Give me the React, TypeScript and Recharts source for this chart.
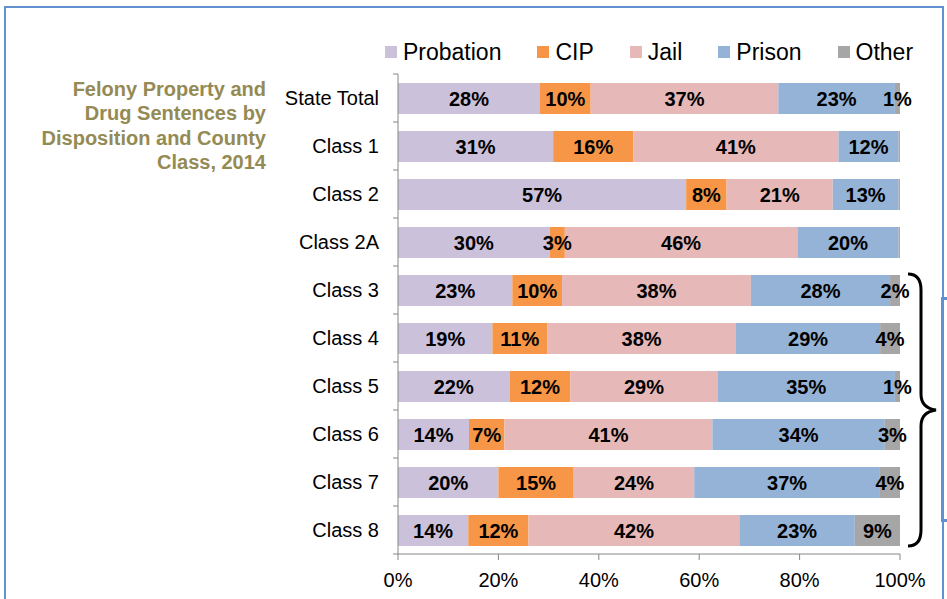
import { Bar, BarChart, LabelList, XAxis, YAxis } from "recharts";

const CATEGORIES = [
  "State Total",
  "Class 1",
  "Class 2",
  "Class 2A",
  "Class 3",
  "Class 4",
  "Class 5",
  "Class 6",
  "Class 7",
  "Class 8",
];
const PROBATION = [28, 31, 57, 30, 23, 19, 22, 14, 20, 14];
const CIP = [10, 16, 8, 3, 10, 11, 12, 7, 15, 12];
const JAIL = [37, 41, 21, 46, 38, 38, 29, 41, 24, 42];
const PRISON = [23, 12, 13, 20, 28, 29, 35, 34, 37, 23];
// tiny slivers with no label in classes 1, 2, 2A
const OTHER = [1, 0.3, 0.3, 0.3, 2, 4, 1, 3, 4, 9];
const X_TICKS = [0, 0.2, 0.4, 0.6, 0.8, 1];

const SERIES = [
  { key: "probation", name: "Probation", color: "#ccc1da" },
  { key: "cip", name: "CIP", color: "#f79646" },
  { key: "jail", name: "Jail", color: "#e6b9b8" },
  { key: "prison", name: "Prison", color: "#95b3d7" },
  { key: "other", name: "Other", color: "#a6a6a6" },
];

const data = CATEGORIES.map((name, i) => ({
  name,
  probation: PROBATION[i],
  cip: CIP[i],
  jail: JAIL[i],
  prison: PRISON[i],
  other: OTHER[i],
}));

const FONT = '"Liberation Sans", Arial, sans-serif';
const PLOT_TOP = 74;
const PLOT_BOTTOM = 554;
const BAND = (PLOT_BOTTOM - PLOT_TOP) / CATEGORIES.length;
const AXIS_COLOR = "#868686";

function CategoryTick(props: any) {
  const { x, y, payload, index } = props;
  const axisX = x + 19;
  return (
    <g>
      <text
        x={x}
        y={y}
        textAnchor="end"
        dominantBaseline="central"
        fontSize={20}
        fontFamily={FONT}
        fill="#000"
      >
        {payload.value}
      </text>
      <line x1={axisX - 5} x2={axisX} y1={y - BAND / 2} y2={y - BAND / 2} stroke={AXIS_COLOR} />
      {index === CATEGORIES.length - 1 && (
        <line x1={axisX - 5} x2={axisX} y1={y + BAND / 2} y2={y + BAND / 2} stroke={AXIS_COLOR} />
      )}
    </g>
  );
}

const pctLabel = (v: any) => (Number(v) >= 0.5 ? `${v}%` : "");

export default function App() {
  return (
    <div
      style={{
        position: "fixed",
        top: 0,
        left: 0,
        width: 947,
        height: 599,
        overflow: "hidden",
        background: "#fff",
        fontFamily: FONT,
      }}
    >
      {/* frame */}
      <div
        style={{
          position: "absolute",
          left: 4,
          top: 6,
          width: 936,
          height: 620,
          border: "2px solid #6391cf",
        }}
      />
      <div
        style={{
          position: "absolute",
          left: 941,
          top: 297,
          width: 20,
          height: 219,
          border: "3px solid #6391cf",
        }}
      />

      <div
        style={{
          position: "absolute",
          right: 947 - 266,
          top: 77,
          textAlign: "right",
          color: "#948a54",
          fontWeight: "bold",
          fontSize: 20,
          lineHeight: "24.3px",
          whiteSpace: "nowrap",
        }}
      >
        Felony Property and
        <br />
        Drug Sentences by
        <br />
        Disposition and County
        <br />
        Class, 2014
      </div>

      <div
        style={{
          position: "absolute",
          left: 385,
          top: 38,
          display: "flex",
          alignItems: "center",
          gap: 36,
          fontSize: 23,
          lineHeight: "28px",
          color: "#000",
        }}
      >
        {SERIES.map((s) => (
          <div key={s.key} style={{ display: "flex", alignItems: "center" }}>
            <span
              style={{ width: 12, height: 12, background: s.color, marginRight: 6 }}
            />
            {s.name}
          </div>
        ))}
      </div>

      <div style={{ position: "absolute", left: 0, top: 0 }}>
        <BarChart
          width={947}
          height={599}
          data={data}
          layout="vertical"
          stackOffset="expand"
          barSize={31}
          margin={{ top: PLOT_TOP, right: 47, bottom: 5, left: 278 }}
        >
          <XAxis
            type="number"
            domain={[0, 1]}
            ticks={X_TICKS}
            tickFormatter={(v) => `${Math.round(v * 100)}%`}
            stroke={AXIS_COLOR}
            tick={{ fill: "#000", fontSize: 20, fontFamily: FONT }}
            tickSize={6}
            tickMargin={13}
            height={40}
          />
          <YAxis
            type="category"
            dataKey="name"
            width={120}
            interval={0}
            stroke={AXIS_COLOR}
            tickLine={false}
            tickSize={0}
            tickMargin={19}
            tick={<CategoryTick />}
          />
          {SERIES.map((s) => (
            <Bar
              key={s.key}
              dataKey={s.key}
              name={s.name}
              stackId="a"
              fill={s.color}
              isAnimationActive={false}
            >
              <LabelList
                dataKey={s.key}
                position="center"
                formatter={pctLabel}
                fill="#000"
                fontSize={20}
                fontWeight="bold"
                fontFamily={FONT}
              />
            </Bar>
          ))}
        </BarChart>
      </div>

      <svg
        width={947}
        height={599}
        style={{ position: "absolute", left: 0, top: 0, pointerEvents: "none" }}
      >
        <path
          d="M908,274 Q921,274 921,290 L921,394 Q921,408 936,410 Q921,412 921,426 L921,530 Q921,546 908,546"
          fill="none"
          stroke="#000"
          strokeWidth={3}
        />
      </svg>
    </div>
  );
}
